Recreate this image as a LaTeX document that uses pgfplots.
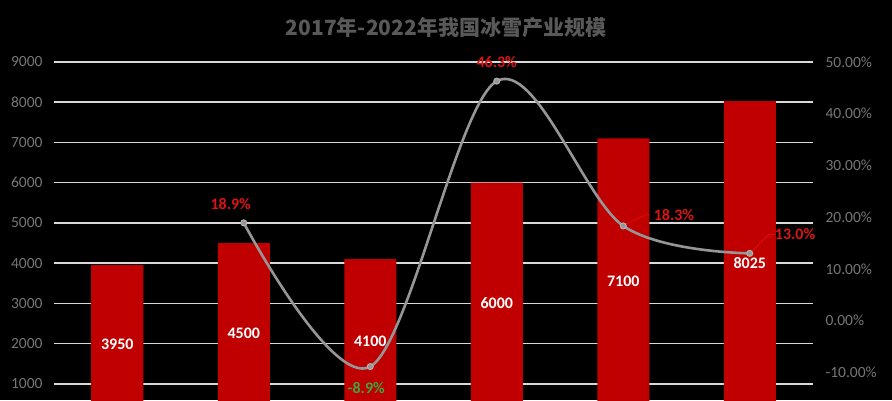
\documentclass[border=0pt]{standalone}
\usepackage{fontspec}
\setmainfont{Carlito}
\newfontfamily\cjk{Noto Sans CJK SC}
\usepackage{pgfplots}
\pgfplotsset{compat=1.18}

\definecolor{barred}{RGB}{192,0,0}
\definecolor{gridgray}{RGB}{217,217,217}
\definecolor{tickgray}{RGB}{118,118,118}
\definecolor{titlegray}{RGB}{89,89,89}
\definecolor{linegray}{RGB}{150,150,150}
\definecolor{lblred}{RGB}{220,20,20}
\definecolor{lblgreen}{RGB}{60,165,60}

\newcommand{\tickfont}{\fontsize{15.5}{18}\selectfont}
\newcommand{\lblfont}{\fontsize{16}{19}\selectfont\bfseries}

\pgfplotsset{
  common/.style={
    at={(54pt,-24pt)}, anchor=south west,
    scale only axis, width=759pt, height=362pt,
    xmin=-0.5, xmax=5.5,
    axis line style={draw=none},
    major tick length=0pt,
    /pgf/number format/assume math mode=true,
    /pgf/number format/1000 sep={},
    tick label style={font=\tickfont, text=tickgray},
  },
}

\begin{document}
\begin{tikzpicture}[x=1pt,y=1pt]
\fill[black] (0,0) rectangle (892,400);

% bars: market size
\begin{axis}[
    common,
    ymin=0, ymax=9000,
    ytick={1000,2000,...,9000},
    xtick=\empty,
    ymajorgrids,
    grid style={gridgray, line width=1.6pt},
    yticklabel style={xshift=-8pt},
]
\addplot[
    ybar, fill=barred, draw=none, bar width=52pt,
    nodes near coords,
    visualization depends on={rawy \as \rawy},
    nodes near coords style={font=\lblfont, text=white, anchor=center,
        shift={(axis direction cs:0,-\rawy/2)}},
] coordinates {
    (0,3950)
    (1,4500)
    (2,4100)
    (3,6000)
    (4,7100)
    (5,8025)
};
\end{axis}

% line: growth rate
\begin{axis}[
    common,
    clip=false,
    ymin=-20, ymax=50,
    ytick={-10,0,...,50},
    axis y line*=right,
    hide x axis,
    yticklabel={\pgfmathprintnumber[fixed,fixed zerofill,precision=2]{\tick}\%},
    yticklabel style={xshift=9pt},
]
\addplot[
    smooth, tension=0.55, color=linegray, line width=2.6pt,
    mark=*, mark size=3pt, mark options={fill=linegray, draw=gray!60, line width=1pt},
] coordinates {
    (1,18.9)
    (2,-8.9)
    (3,46.3)
    (4,18.3)
    (5,13.0)
};
\node[font=\lblfont, text=lblred, xshift=-13pt, yshift=19pt] at (axis cs:1,18.9) {18.9\%};
\node[font=\lblfont, text=lblgreen, xshift=-4pt, yshift=-21pt] at (axis cs:2,-8.9) {-8.9\%};
\node[font=\lblfont, text=lblred, yshift=19pt] at (axis cs:3,46.3) {46.3\%};
\draw[lblred, line width=0.6pt] ([shift={(3pt,2pt)}]axis cs:4,18.3) -- ([shift={(22pt,11pt)}]axis cs:4,18.3) -- ([shift={(27pt,11pt)}]axis cs:4,18.3);
\node[font=\lblfont, text=lblred, anchor=west, xshift=27pt, yshift=11pt] at (axis cs:4,18.3) {18.3\%};
\draw[lblred, line width=0.6pt] ([shift={(3pt,3pt)}]axis cs:5,13.0) -- ([shift={(19pt,19pt)}]axis cs:5,13.0) -- ([shift={(25pt,19pt)}]axis cs:5,13.0);
\node[font=\lblfont, text=lblred, anchor=west, xshift=24pt, yshift=19pt, inner sep=1pt] at (axis cs:5,13.0) {13.0\%};
\end{axis}

\node[font=\cjk\bfseries\fontsize{21}{24}\selectfont, text=titlegray] at (446,372) {2017年-2022年我国冰雪产业规模};

\pgfresetboundingbox
\useasboundingbox (0,0) rectangle (892,400);
\end{tikzpicture}
\end{document}
